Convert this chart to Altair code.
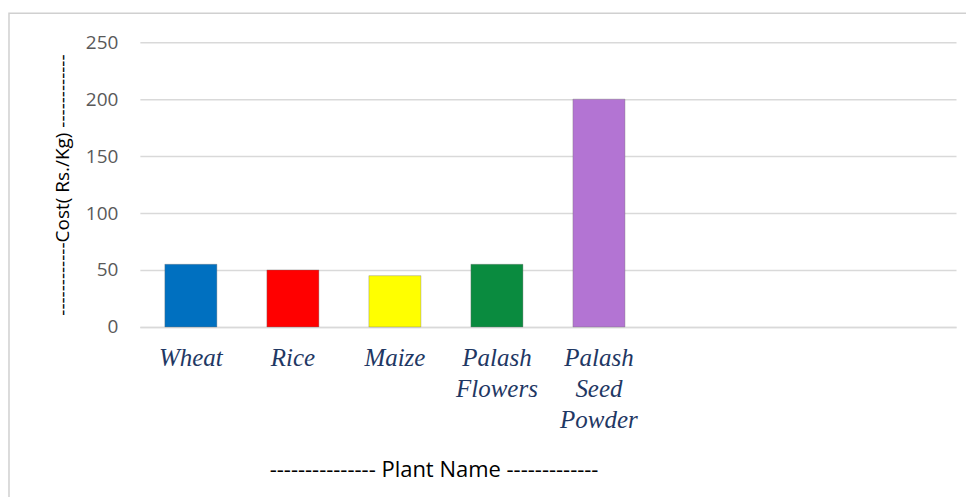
import altair as alt
import pandas as pd

categories = ["Wheat", "Rice", "Maize", "Palash Flowers", "Palash Seed Powder"]
costs = [55, 50, 45, 55, 200]
bar_colors = ["#0070C0", "#FF0000", "#FFFF00", "#0A8B3F", "#B374D3"]
empty_slots = ["_blank1", "_blank2", "_blank3"]
y_ticks = [0, 50, 100, 150, 200, 250]

df = pd.DataFrame({"Plant": categories, "Cost": costs})

x_domain = categories + empty_slots

frame = alt.Chart(pd.DataFrame({"k": [0]})).mark_rect(
    fill="white", fillOpacity=0, stroke="#d0d0d0", strokeWidth=1.5
).encode(
    x=alt.value(-131), x2=alt.value(900), y=alt.value(-29), y2=alt.value(600)
)

bars = alt.Chart(df).mark_bar(
    stroke="#6f6f6f", strokeWidth=0.8, strokeOpacity=0.45
).encode(
    x=alt.X(
        "Plant:N",
        sort=None,
        scale=alt.Scale(domain=x_domain, paddingInner=0.49, paddingOuter=0.245),
        axis=alt.Axis(
            title="---------------  Plant Name -------------",
            titleFont="Open Sans",
            titleFontSize=22,
            titleFontWeight="normal",
            titleColor="#000000",
            titleX=294,
            titleY=143,
            titleAlign="center",
            titleBaseline="middle",
            labelAngle=0,
            labelFont="Liberation Serif",
            labelFontStyle="italic",
            labelFontSize=25,
            labelColor="#1F3864",
            labelPadding=19,
            labelLineHeight=31,
            labelBaseline="top",
            labelExpr="indexof(datum.label, '_blank') == 0 ? '' : split(datum.label, ' ')",
            ticks=False,
            domain=True,
            domainColor="#d9d9d9",
            domainWidth=1.5,
            grid=False,
        ),
    ),
    y=alt.Y(
        "Cost:Q",
        scale=alt.Scale(domain=[0, 250], nice=False),
        axis=alt.Axis(
            values=y_ticks,
            title="------------Cost( Rs./Kg) ------------",
            titleFont="Open Sans",
            titleFontSize=19,
            titleFontWeight="normal",
            titleColor="#000000",
            titlePadding=13,
            labelFont="Open Sans",
            labelFontSize=19,
            labelColor="#595959",
            labelPadding=22,
            ticks=False,
            domain=False,
            grid=True,
            gridColor="#d9d9d9",
            gridWidth=1.5,
        ),
    ),
    color=alt.Color(
        "Plant:N",
        scale=alt.Scale(domain=categories, range=bar_colors),
        legend=None,
    ),
)

chart = alt.layer(frame, bars).properties(
    width=817,
    height=285,
    autosize=alt.AutoSizeParams(type="none"),
    padding={"left": 132, "top": 34, "right": 10, "bottom": 170},
).configure_view(stroke=None)

chart.save("out.html", embed_options={"renderer": "svg", "actions": False})
